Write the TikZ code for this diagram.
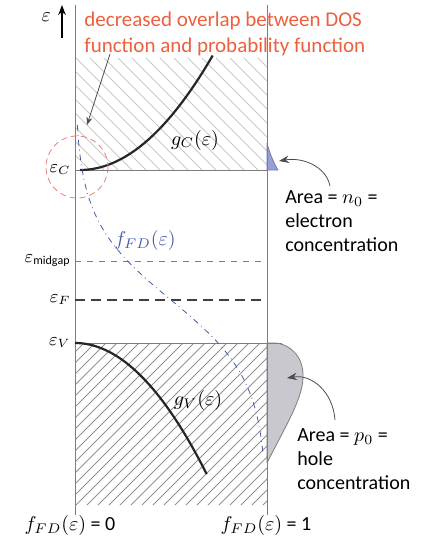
\documentclass[tikz,border=0pt]{standalone}
\usepackage{fontspec}
\setmainfont{Carlito}
\usetikzlibrary{arrows.meta}

\begin{document}
\begin{tikzpicture}[x=0.5pt, y=-0.5pt, line join=round]

    % --- Colors ---
    \definecolor{axisgray}{RGB}{125, 125, 125}
    \definecolor{hatchlight}{RGB}{200, 200, 200}
    \definecolor{hatchdark}{RGB}{145, 145, 145}
    \definecolor{notered}{RGB}{236, 96, 62}
    \definecolor{circred}{RGB}{236, 125, 125}
    \definecolor{fdblue}{RGB}{70, 90, 170}
    \definecolor{elecfill}{RGB}{150, 160, 215}
    \definecolor{holefill}{RGB}{200, 200, 206}

    \useasboundingbox (0,0) rectangle (421,540);

    % --- Coordinates ---
    \coordinate (ltop) at (75, 5);
    \coordinate (lbot) at (75, 515);
    \coordinate (rtop) at (267, 5);
    \coordinate (rbot) at (267, 515);

    \coordinate (ecl) at (75, 170);
    \coordinate (ecr) at (267, 170);
    \coordinate (mgl) at (75, 261);
    \coordinate (mgr) at (267, 261);
    \coordinate (efl) at (75, 300);
    \coordinate (efr) at (262, 300);
    \coordinate (evl) at (75, 343);
    \coordinate (evr) at (282, 343);

    \coordinate (etail) at (62, 38);
    \coordinate (ehead) at (62, 5);

    \coordinate (ntip) at (279, 161);
    \coordinate (ptip) at (287, 378);
    \coordinate (otip) at (87, 125);

    % --- 1. Hatched bands ---
    \begin{scope}
        \clip (75, 58) rectangle (267, 170);
        \foreach \x in {-120, -106, ..., 267} {
            \draw[hatchlight, thin] (\x, 58) -- ++(112, 112);
        }
    \end{scope}
    \begin{scope}
        \clip (75, 343) rectangle (267, 505);
        \foreach \x in {-100, -89, ..., 267} {
            \draw[hatchdark, thin] (\x, 505) -- ++(162, -162);
        }
    \end{scope}

    % --- 2. Filled areas beside the right axis ---
    \filldraw[fill=elecfill, draw=elecfill!80!black, thin]
        (267, 143) .. controls (270, 155) and (275, 165) .. (278, 170) -- (267, 170) -- cycle;
    \filldraw[fill=holefill, draw=axisgray, thin]
        (267, 343) -- (276, 343) .. controls (292, 345) and (304, 358) .. (303, 378)
        .. controls (302, 400) and (286, 425) .. (267, 463) -- cycle;

    % --- 3. Frame and level lines ---
    \draw[axisgray, thin] (ltop) -- (lbot);
    \draw[axisgray, thin] (rtop) -- (rbot);
    \draw[axisgray, thin] (ecl) -- (ecr);
    \draw[axisgray, thin] (evl) -- (evr);
    \draw[axisgray, thin, dashed] (mgl) -- (mgr);
    \draw[black!75, line width=1pt, dash pattern=on 5pt off 3pt] (efl) -- (efr);

    % --- 4. Curves ---
    \draw[black!85, line width=1.1pt] plot[domain=0:10.7, samples=40, variable=\t] ({80 + 12.4*\t}, {170 - \t*\t});
    \draw[black!85, line width=1.1pt] plot[domain=0:11.45, samples=40, variable=\t] ({75 + 11.5*\t}, {343 + \t*\t});
    \draw[fdblue, thin, dash dot] plot[domain=125:455, samples=80, variable=\t] ({75 + 192/(1 + exp((300 - \t)/40))}, \t);

    % --- 5. Overlap marker ---
    \draw[circred, thin, densely dashed] (77, 167) circle (31);

    % --- 6. Labels ---
    \draw[-{Stealth[length=5pt]}, black, thick] (etail) -- (ehead);
    \node[anchor=east] (leps) at (58, 17) {$\varepsilon$};

    \node[anchor=east, inner sep=1pt, font=\small] (lec) at (73, 170) {$\varepsilon_C$};
    \node[anchor=east, inner sep=1pt, font=\small] (lmg) at (73, 261) {$\varepsilon_{\mathrm{midgap}}$};
    \node[anchor=east, inner sep=1pt, font=\small] (lef) at (73, 300) {$\varepsilon_F$};
    \node[anchor=east, inner sep=1pt, font=\small] (lev) at (73, 343) {$\varepsilon_V$};

    \node (lgc) at (195, 140) {$g_C(\varepsilon)$};
    \node (lgv) at (198, 400) {$g_V(\varepsilon)$};
    \node[text=fdblue] (lfd) at (145, 240) {$f_{FD}(\varepsilon)$};

    \node[text=notered, align=left, anchor=north west, inner sep=0pt, font=\fontsize{10.5}{13}\selectfont] (lnote) at (84, 12)
        {decreased overlap between DOS\\function and probability function};
    \draw[-{Stealth[length=4pt]}, black!70, thin] (110, 54) -- (otip);

    \node[align=left, anchor=north west, inner sep=0pt] (ln0) at (285, 190)
        {Area = $n_0$ =\\electron\\concentration};
    \draw[-{Stealth[length=5pt]}, black!70, thin] (330, 186) .. controls (326, 166) and (302, 157) .. (ntip);

    \node[align=left, anchor=north west, inner sep=0pt] (lp0) at (297, 428)
        {Area = $p_0$ =\\hole\\concentration};
    \draw[-{Stealth[length=5pt]}, black!70, thin] (335, 420) .. controls (333, 392) and (312, 374) .. (ptip);

    \node (lf0) at (70, 525) {$f_{FD}(\varepsilon)$ = 0};
    \node (lf1) at (266, 525) {$f_{FD}(\varepsilon)$ = 1};

\end{tikzpicture}
\end{document}
